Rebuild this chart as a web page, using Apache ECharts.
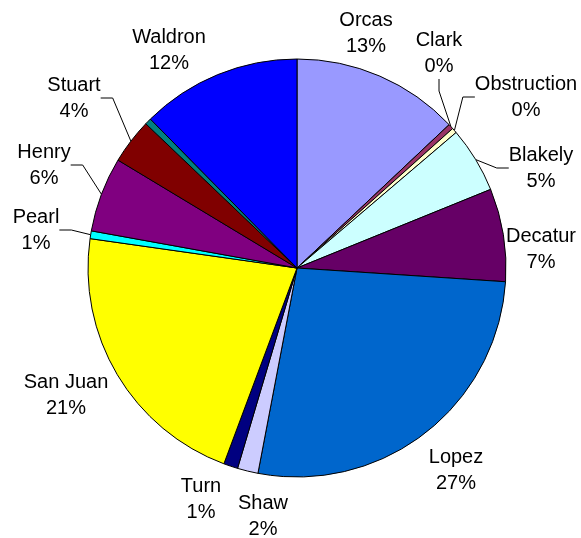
<!DOCTYPE html>
<html><head><meta charset="utf-8">
<script src="https://cdn.jsdelivr.net/npm/echarts@6/dist/echarts.min.js"></script>
<style>html,body{margin:0;padding:0;background:#fff}#c{width:581px;height:538px}</style>
</head><body><div id="c"></div>
<script>
var names = ['Orcas','Clark','Obstruction','Blakely','Decatur','Lopez','Shaw','Turn','San Juan','Pearl','Henry','Stuart','','Waldron'];
var values = [13.0, 0.4, 0.4, 5.1, 7.2, 27.0, 1.6, 1.1, 21.6, 0.6, 5.8, 3.5, 0.5, 12.4];
var pctLabels = ['13%','0%','0%','5%','7%','27%','2%','1%','21%','1%','6%','4%','','12%'];
var colors = ['#9999FF','#993366','#FFFFCC','#CCFFFF','#660066','#0066CC','#CCCCFF','#000080','#FFFF00','#00FFFF','#800080','#800000','#008080','#0000FF'];
var leader = [false,true,true,true,false,false,false,false,false,true,true,true,false,false];
// label block centres (layout, not data)
var labelPos = [[366,33],[439,53],[526,97],[541,168],[541,249],[456,470],[263,516],[201,499],[66,395],[36,230],[44,165],[74,98],[0,0],[169,50]];

var data = names.map(function(n,i){
  return {name:n, value:values[i], itemStyle:{color:colors[i]},
    label:{show: n!==''}, labelLine:{show: leader[i]}};
});
var chart = echarts.init(document.getElementById('c'), null, {renderer:'canvas'});
chart.setOption({
  animation:false,
  series:[{
    type:'pie',
    center:[297,268],
    radius:209,
    startAngle:90,
    clockwise:true,
    data:data,
    itemStyle:{borderColor:'#000',borderWidth:1},
    label:{
      position:'outside',
      formatter:function(p){return p.name+'\n'+pctLabels[p.dataIndex];},
      fontFamily:'Liberation Sans, Arial, sans-serif',
      fontSize:20,
      color:'#000',
      lineHeight:26,
      align:'center',
      overflow:'none'
    },
    labelLine:{show:true,length:8,length2:12,lineStyle:{color:'#000',width:1}},
    labelLayout:function(p){
      var pos = labelPos[p.dataIndex];
      return {x:pos[0], y:pos[1], align:'center', verticalAlign:'middle'};
    }
  }]
});
</script></body></html>
